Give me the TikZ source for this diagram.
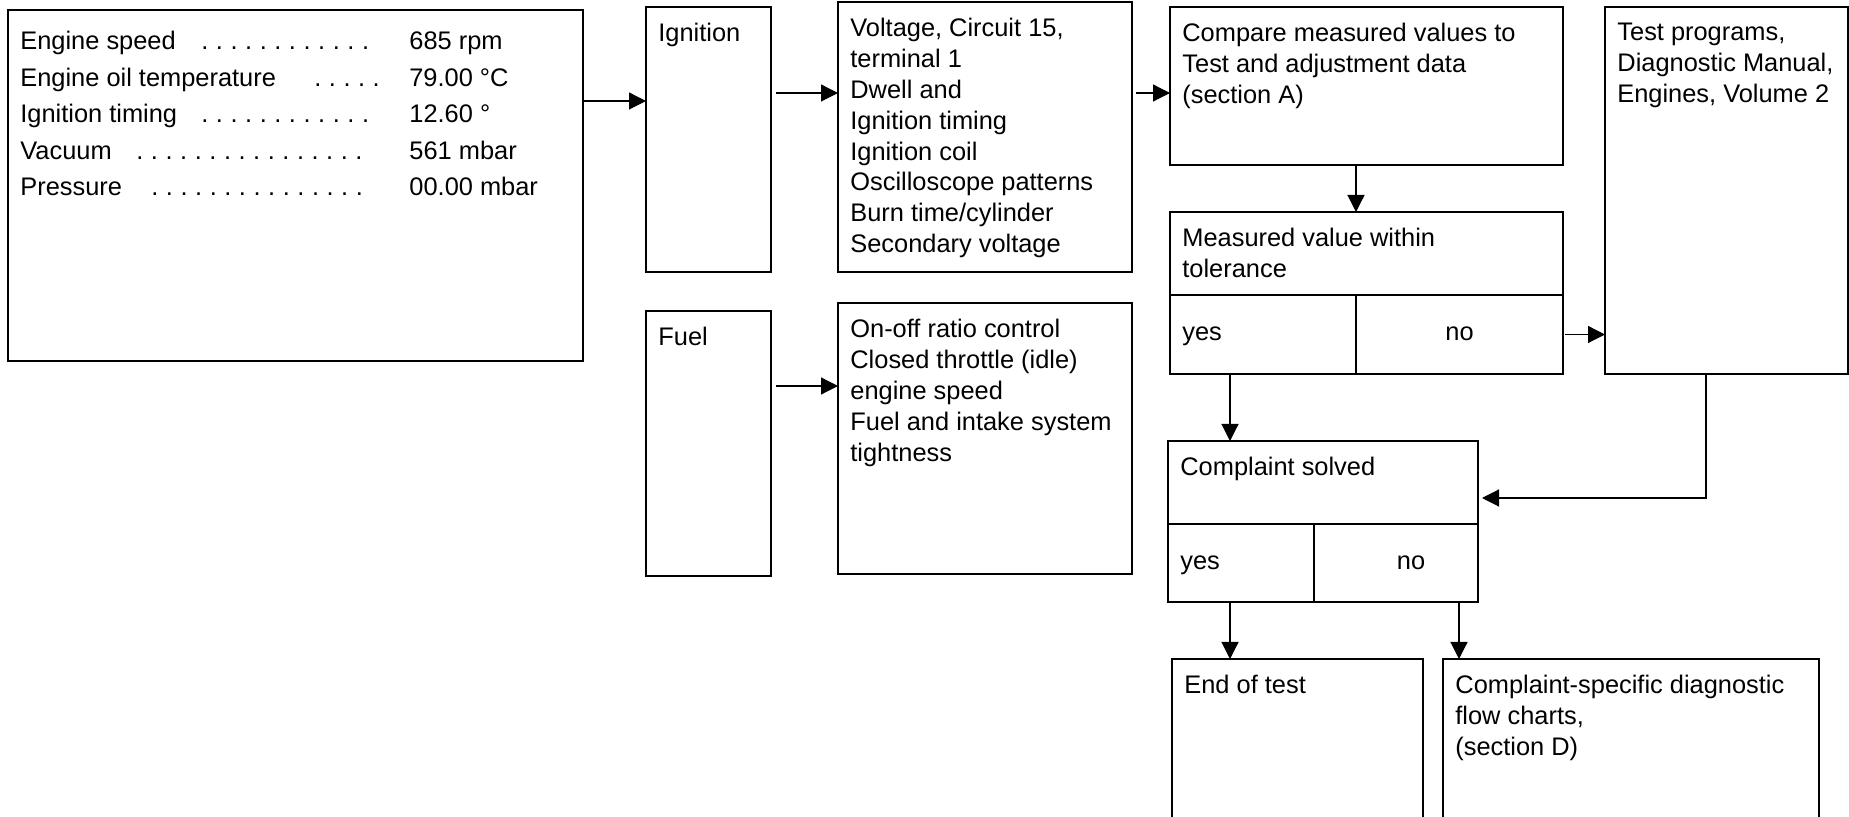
\documentclass[tikz,border=0pt]{standalone}
\usepackage{fontspec}
\setmainfont{Liberation Sans}
\usepackage{tikz}
\usetikzlibrary{arrows.meta,positioning,calc}
\tikzset{
  box/.style={
    rectangle, draw=black, line width=0.75pt,
    anchor=north west, inner sep=0pt, outer sep=0pt
  },
  boxtext/.style={
    font=\fontsize{12.7pt}{15.4pt}\selectfont, align=left,
    inner xsep=6pt, inner ysep=8pt
  },
  toptext/.style={label={[boxtext, anchor=north west]north west:#1}},
  celltext/.style={font=\fontsize{12.7pt}{15.4pt}\selectfont,
    text height=9pt, text depth=2.5pt},
  lefttext/.style={label={[celltext, inner xsep=6pt, inner ysep=0pt, anchor=west]west:#1}},
  cell/.style={box, celltext},
  readings/.style={
    font=\fontsize{12.7pt}{18.25pt}\selectfont, align=left,
    inner sep=0pt, anchor=north west
  },
  flowarrow/.style={
    -{Triangle[length=8.5pt,width=8.5pt]}, line width=0.6pt
  },
}
\newcommand{\dotrun}[1]{\foreach \k in {1,...,#1}{\makebox[7.3pt][l]{.}}}
\newcommand{\readingrow}[4]{\makebox[194.5pt][l]{\makebox[#1][l]{#2}\dotrun{#3}}#4}

\begin{document}
\begin{tikzpicture}[x=0.5pt, y=-0.5pt]
\useasboundingbox (0,0) rectangle (1849,817);
\clip (0,0) rectangle (1849,817);

% Measured values
\node[box, minimum width=287.5pt, minimum height=175.5pt] (data) at (8,10) {};
\node[readings] (rd) at ([xshift=6pt,yshift=-10.5pt]data.north west) {%
  \readingrow{90.5pt}{Engine speed}{12}{685 rpm}\\
  \readingrow{147pt}{Engine oil temperature}{5}{79.00 °C}\\
  \readingrow{90.5pt}{Ignition timing}{12}{12.60 °}\\
  \readingrow{58pt}{Vacuum}{16}{561 mbar}\\
  \readingrow{65.5pt}{Pressure}{15}{00.00 mbar}};

% Systems
\node[box, minimum width=62.5pt, minimum height=132.5pt, toptext=Ignition] (ign) at (646,7) {};
\node[box, minimum width=62.5pt, minimum height=132.5pt, toptext=Fuel] (fuel) at (646,311) {};

% Checks
\node[box, minimum width=147pt, minimum height=135pt,
  toptext={Voltage, Circuit 15,\\terminal 1\\Dwell and\\Ignition timing\\Ignition coil\\Oscilloscope patterns\\Burn time/cylinder\\Secondary voltage}] (ignchk) at (838,2) {};
\node[box, minimum width=147pt, minimum height=135.5pt,
  toptext={On-off ratio control\\Closed throttle (idle)\\engine speed\\Fuel and intake system\\tightness}] (fuelchk) at (838,303) {};

% Evaluation
\node[box, minimum width=196.5pt, minimum height=79pt,
  toptext={Compare measured values to\\Test and adjustment data\\(section A)}] (cmp) at (1170,7) {};
\node[box, minimum width=196.5pt, minimum height=41.5pt,
  toptext={Measured value within\\tolerance}] (meas) at (1170,212) {};
\node[box, minimum width=93pt, minimum height=39.5pt, lefttext=yes] (meas-yes) at (meas.south west) {};
\node[cell, minimum width=103.5pt, minimum height=39.5pt] (meas-no) at (meas-yes.north east) {no};

\node[box, minimum width=121.5pt, minimum height=183.5pt,
  toptext={Test programs,\\Diagnostic Manual,\\Engines, Volume 2}] (tp) at (1605,7) {};

\node[box, minimum width=155pt, minimum height=41.5pt, toptext={Complaint solved}] (cs) at (1168,441) {};
\node[box, minimum width=73pt, minimum height=39pt, lefttext=yes] (cs-yes) at (cs.south west) {};
\node[box, minimum width=82pt, minimum height=39pt,
  label={[celltext, xshift=7.5pt]center:no}] (cs-no) at (cs-yes.north east) {};

\node[box, minimum width=125.5pt, minimum height=90pt, toptext={End of test}] (endtest) at (1172,659) {};
\node[box, minimum width=188pt, minimum height=90pt,
  toptext={Complaint-specific diagnostic\\flow charts,\\(section D)}] (csd) at (1443,659) {};

% Flow
\draw[flowarrow] ([yshift=-45.5pt]data.north east) -- ([yshift=-45.5pt]data.north east -| ign.west);
\draw[flowarrow] ([xshift=2.5pt,yshift=-43pt]ign.north east) -- ([yshift=-43pt]ign.north east -| ignchk.west);
\draw[flowarrow] ([xshift=2.5pt,yshift=-37.5pt]fuel.north east) -- ([yshift=-37.5pt]fuel.north east -| fuelchk.west);
\draw[flowarrow] ([xshift=2pt,yshift=-45.5pt]ignchk.north east) -- ([yshift=-45.5pt]ignchk.north east -| cmp.west);
\draw[flowarrow] (meas-no.north west |- cmp.south) -- (meas-no.north west |- meas.north);
\draw[flowarrow] ([xshift=1pt]meas-no.east) -- (meas-no.east -| tp.west);
\draw[flowarrow] ([xshift=30pt]meas-yes.south west) -- ([xshift=30pt]meas-yes.south west |- cs.north);
\draw[flowarrow] ([xshift=-10.25pt]tp.south) |- ([xshift=2pt,yshift=-7.75pt]cs.east);
\draw[flowarrow] ([xshift=31pt]cs-yes.south west) -- ([xshift=31pt]cs-yes.south west |- endtest.north);
\draw[flowarrow] ([xshift=-9.5pt,yshift=-0.5pt]cs-no.south east) -- ([xshift=-9.5pt]cs-no.south east |- csd.north);

\end{tikzpicture}
\end{document}
